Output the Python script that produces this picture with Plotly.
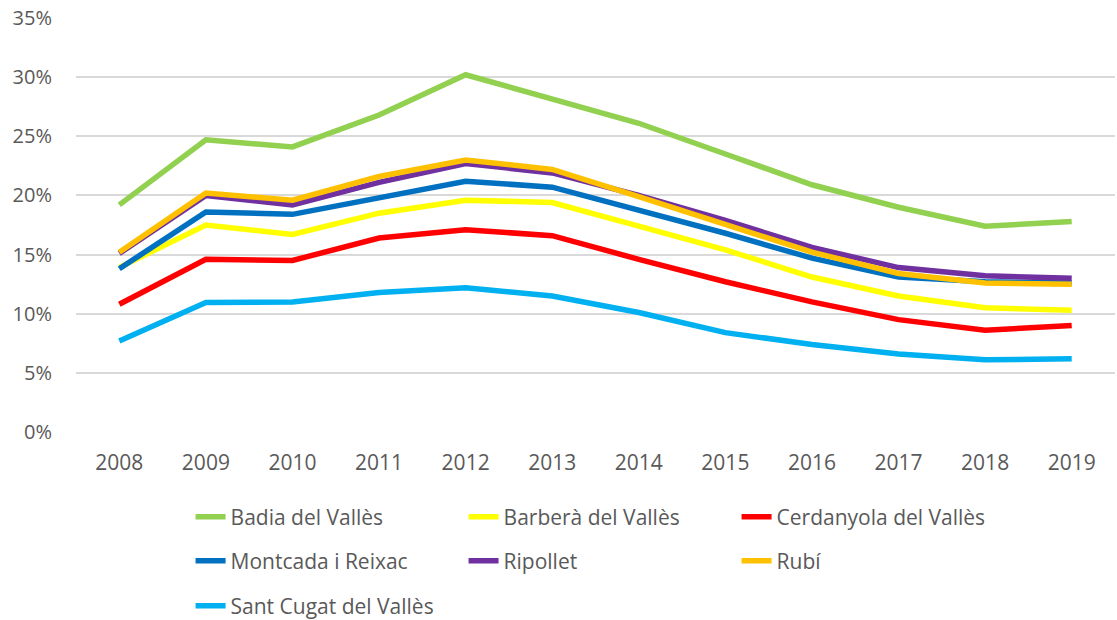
import plotly.graph_objects as go

years = ["2008", "2009", "2010", "2011", "2012", "2013", "2014", "2015", "2016", "2017", "2018", "2019"]

badia = [19.2, 24.7, 24.1, 26.8, 30.2, 28.1, 26.1, 23.5, 20.9, 19.0, 17.4, 17.8]
barbera = [13.9, 17.5, 16.7, 18.5, 19.6, 19.4, 17.4, 15.4, 13.1, 11.5, 10.5, 10.3]
cerdanyola = [10.8, 14.6, 14.5, 16.4, 17.1, 16.6, 14.6, 12.7, 11.0, 9.5, 8.6, 9.0]
montcada = [13.8, 18.6, 18.4, 19.8, 21.2, 20.7, 18.8, 16.8, 14.7, 13.1, 12.7, 12.6]
ripollet = [15.1, 20.0, 19.2, 21.1, 22.7, 21.9, 20.0, 17.9, 15.6, 13.9, 13.2, 13.0]
rubi = [15.2, 20.2, 19.6, 21.6, 23.0, 22.2, 19.9, 17.6, 15.2, 13.4, 12.6, 12.5]
santcugat = [7.7, 10.95, 11.0, 11.8, 12.2, 11.5, 10.1, 8.4, 7.4, 6.6, 6.1, 6.2]

series = [
    ("Badia del Vallès", badia, "#92D050", "legend"),
    ("Barberà del Vallès", barbera, "#FFFF00", "legend"),
    ("Cerdanyola del Vallès", cerdanyola, "#FF0000", "legend"),
    ("Montcada i Reixac", montcada, "#0070C0", "legend2"),
    ("Ripollet", ripollet, "#7030A0", "legend2"),
    ("Rubí", rubi, "#FFC000", "legend2"),
    ("Sant Cugat del Vallès", santcugat, "#00B0F0", "legend3"),
]

FONT = "Open Sans"
GREY = "#595959"

fig = go.Figure()
for name, vals, color, leg in series:
    fig.add_trace(go.Scatter(
        x=years, y=[v / 100 for v in vals], name=name, mode="lines",
        line=dict(color=color, width=5.5, shape="linear"),
        legend=leg,
    ))

leg_common = dict(
    orientation="h", entrywidth=228, entrywidthmode="pixels",
    xref="container", yref="container",
    xanchor="left", yanchor="middle", x=0.1706,
    font=dict(family=FONT, size=21, color=GREY),
    bgcolor="rgba(0,0,0,0)", itemwidth=30, traceorder="normal",
)

fig.update_layout(
    width=1117, height=620,
    margin=dict(l=76, r=2, t=18, b=188, autoexpand=False),
    paper_bgcolor="white", plot_bgcolor="white",
    font=dict(family=FONT, size=20, color=GREY),
    xaxis=dict(
        type="category", range=[-0.5, 11.5], showgrid=False, zeroline=False,
        showline=False, ticks="", tickfont=dict(family=FONT, size=21, color=GREY),
        ticklabelstandoff=16,
    ),
    yaxis=dict(
        range=[0, 0.35], dtick=0.05, tickformat=".0%", showgrid=True,
        gridcolor="#D9D9D9", gridwidth=1.5, zeroline=False, showline=False,
        ticks="", tickfont=dict(family=FONT, size=20, color=GREY),
        ticklabelstandoff=23,
    ),
    legend=dict(leg_common, y=1 - 517 / 620),
    legend2=dict(leg_common, y=1 - 561 / 620),
    legend3=dict(leg_common, y=1 - 606 / 620),
    showlegend=True,
)

fig.write_html(
    "out.html",
    config={"displayModeBar": False},
    post_script="document.body.style.margin='0px';document.body.style.overflow='hidden';",
)
